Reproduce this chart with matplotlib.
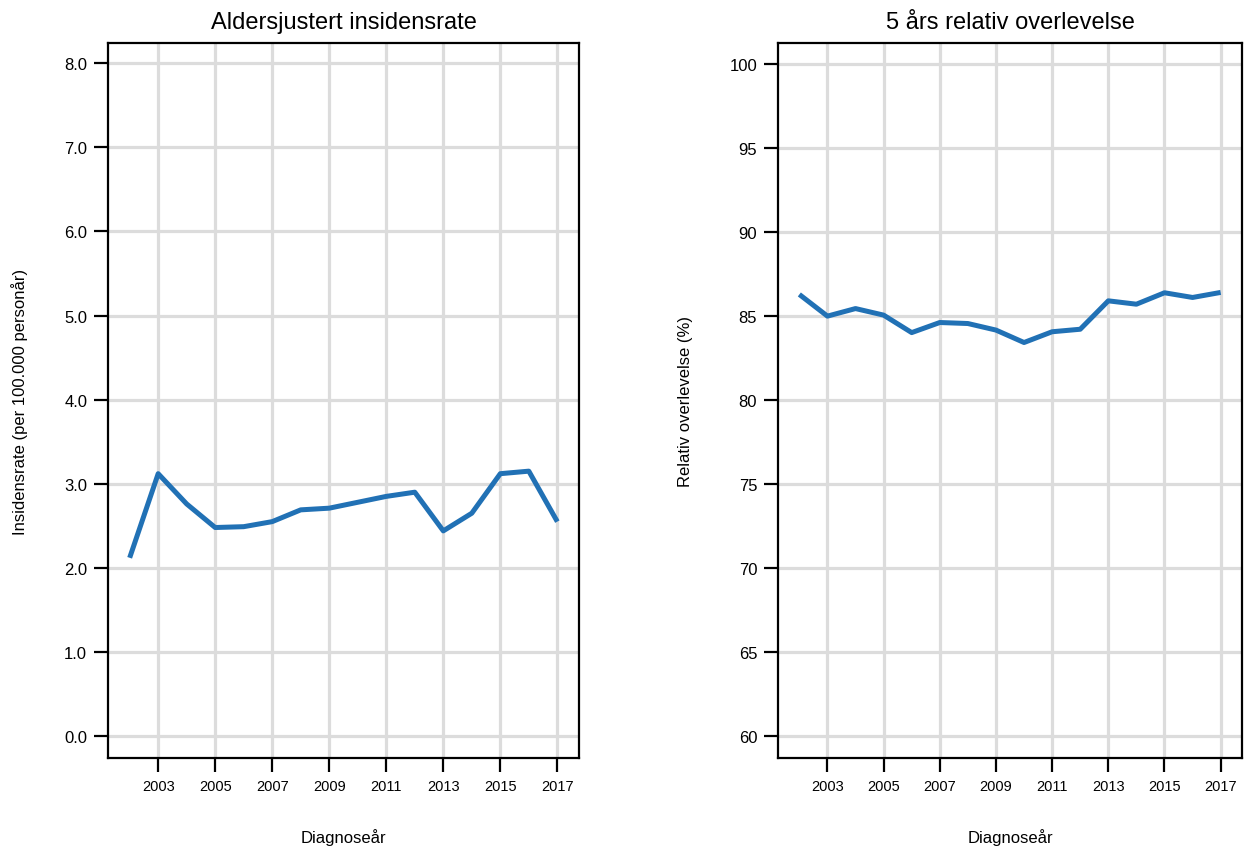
import matplotlib
matplotlib.use("Agg")
import matplotlib.pyplot as plt
import numpy as np

plt.rcParams['font.family'] = ['Liberation Sans', 'DejaVu Sans']

years = list(range(2002, 2018))
insidens = [2.12, 3.12, 2.76, 2.48, 2.49, 2.55, 2.69, 2.71, 2.78, 2.85, 2.90,
            2.44, 2.65, 3.12, 3.15, 2.55]
overlevelse = [86.27, 84.98, 85.43, 85.04, 84.00, 84.60, 84.54, 84.15, 83.41,
               84.05, 84.20, 85.89, 85.69, 86.37, 86.09, 86.39]

xticks = list(range(2003, 2018, 2))
yticks_left = [0, 1, 2, 3, 4, 5, 6, 7, 8]
yticks_right = [60, 65, 70, 75, 80, 85, 90, 95, 100]

line_col = '#2171b5'
grid_col = '#dcdcdc'

fig = plt.figure(figsize=(12.46, 8.54), dpi=100)
ax1 = fig.add_axes([108 / 1246, 1 - 759 / 854, (579 - 108) / 1246, (759 - 44) / 854])
ax2 = fig.add_axes([778 / 1246, 1 - 759 / 854, (1242 - 778) / 1246, (759 - 44) / 854])


def style(ax, yticks, ylim, fmt, title, ylabel, ylab_x):
    ax.set_xlim(2001.24, 2017.76)
    ax.set_ylim(*ylim)
    ax.set_xticks(xticks)
    ax.set_xticklabels([str(x) for x in xticks], fontsize=10.5)
    ax.set_yticks(yticks)
    ax.set_yticklabels([fmt.format(v) for v in yticks], fontsize=12)
    ax.grid(True, color=grid_col, linewidth=2.3)
    ax.set_axisbelow(True)
    for s in ax.spines.values():
        s.set_linewidth(1.6)
    ax.tick_params(axis='both', direction='out', length=10, width=1.6, pad=5)
    ax.set_title(title, fontsize=17, pad=11)
    ax.set_xlabel('Diagnoseår', fontsize=12, va='center')
    ax.xaxis.set_label_coords(0.5, -0.1105)
    ax.set_ylabel(ylabel, fontsize=12, va='center')
    ax.yaxis.set_label_coords(ylab_x, 0.5)


ax1.plot(years, insidens, color=line_col, linewidth=3.6, solid_capstyle='butt')
style(ax1, yticks_left, (-0.26, 8.24), '{:.1f}', 'Aldersjustert insidensrate',
      'Insidensrate (per 100.000 personår)', -0.187)

ax2.plot(years, overlevelse, color=line_col, linewidth=3.6, solid_capstyle='butt')
style(ax2, yticks_right, (58.69, 101.23), '{:d}', '5 års relativ overlevelse',
      'Relativ overlevelse (%)', -0.2)

fig.savefig('out.png', dpi=100)
